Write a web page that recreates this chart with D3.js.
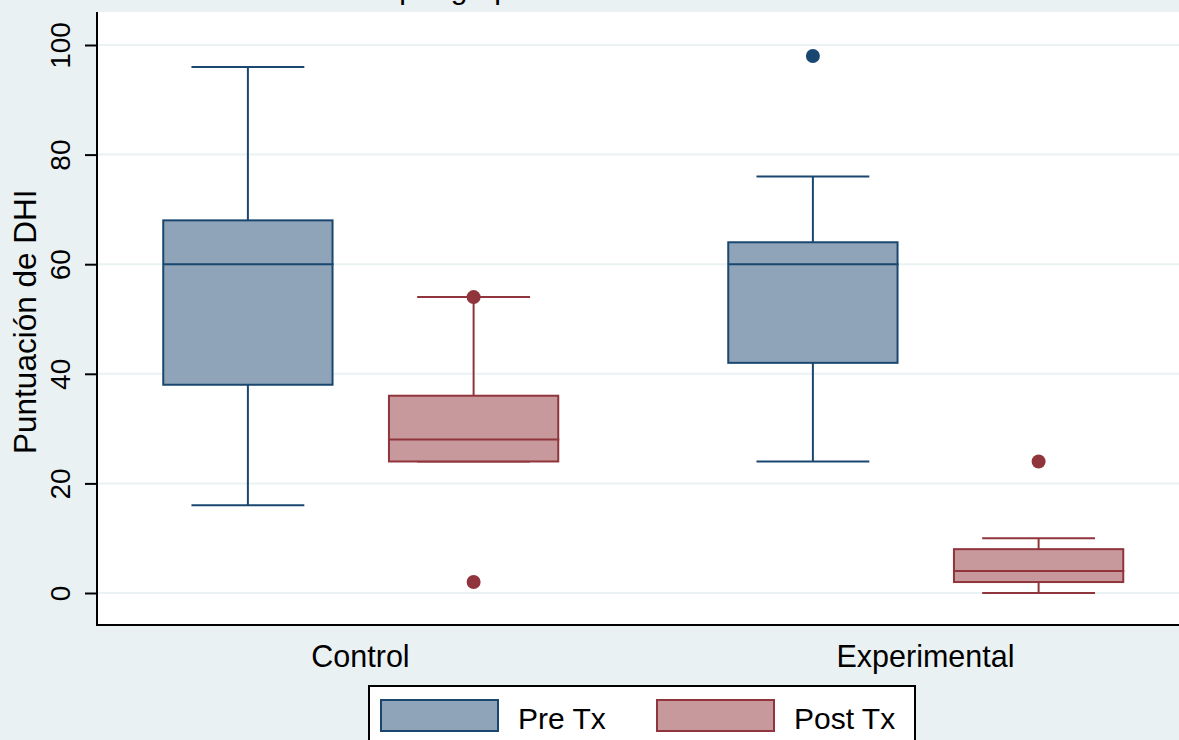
<!DOCTYPE html>
<html>
<head>
<meta charset="utf-8">
<script src="https://cdn.jsdelivr.net/npm/d3@7"></script>
<style>
  body { margin: 0; background: #eaf1f3; }
  text { font-family: "Liberation Sans", Arial, sans-serif; fill: #000; }
</style>
</head>
<body>
<div id="chart"></div>
<script>
const groups = ['Control', 'Experimental'];
const series = ['Pre Tx', 'Post Tx'];
const yTicks = [0, 20, 40, 60, 80, 100];

// [lower whisker, Q1, median, Q3, upper whisker] per group
const preTx = [
  [16, 38, 60, 68, 96],
  [24, 42, 60, 64, 76],
];
const postTx = [
  [24, 24, 28, 36, 54],
  [0, 2, 4, 8, 10],
];
const preOutliers = [[], [98]];
const postOutliers = [[54, 2], [24]];

const colors = {
  'Pre Tx': { fill: '#8fa4b8', stroke: '#1a476f' },
  'Post Tx': { fill: '#c8999c', stroke: '#90353b' },
};

const width = 1179;
const height = 740;

const svg = d3
  .select('#chart')
  .append('svg')
  .attr('width', width)
  .attr('height', height);

svg.append('rect').attr('width', width).attr('height', height).attr('fill', '#eaf1f3');

const plotLeft = 97;
const plotTop = 12;
const plotBottom = 625;

svg
  .append('rect')
  .attr('x', plotLeft)
  .attr('y', plotTop)
  .attr('width', width - plotLeft + 5)
  .attr('height', plotBottom - plotTop)
  .attr('fill', '#fff');

// title: only its lower edge shows at the top of the frame
svg
  .append('text')
  .attr('x', 139)
  .attr('y', -1.5)
  .style('font-size', '30px')
  .text('Puntuación de DHI por grupo');

const y = d3.scaleLinear().domain([0, 100]).range([593, 45]);

const x = d3.scaleBand().domain(groups).range([78, 1208]).padding(0);
const xs = d3
  .scaleBand()
  .domain(series)
  .range([85.25, 480.25])
  .paddingInner(0.25)
  .paddingOuter(0);

// gridlines
svg
  .append('g')
  .selectAll('line')
  .data(yTicks)
  .enter()
  .append('line')
  .attr('x1', plotLeft)
  .attr('x2', width)
  .attr('y1', (d) => y(d))
  .attr('y2', (d) => y(d))
  .attr('stroke', '#eaf2f3')
  .attr('stroke-width', 2);

const yAxis = svg
  .append('g')
  .attr('transform', `translate(${plotLeft},0)`)
  .call(d3.axisLeft(y).tickValues(yTicks).tickSize(12).tickFormat(d3.format('d')));
yAxis.select('.domain').remove();
yAxis.selectAll('.tick line').attr('stroke', '#000').attr('stroke-width', 2);
yAxis
  .selectAll('.tick text')
  .attr('x', null)
  .attr('dy', null)
  .attr('transform', 'translate(-27,0) rotate(-90)')
  .attr('text-anchor', 'middle')
  .style('font-size', '28px')
  .style('font-family', '"Liberation Sans", Arial, sans-serif');

svg
  .append('line')
  .attr('x1', plotLeft)
  .attr('x2', plotLeft)
  .attr('y1', plotTop)
  .attr('y2', plotBottom + 1)
  .attr('stroke', '#000')
  .attr('stroke-width', 2);

svg
  .append('line')
  .attr('x1', plotLeft)
  .attr('x2', width)
  .attr('y1', plotBottom)
  .attr('y2', plotBottom)
  .attr('stroke', '#000')
  .attr('stroke-width', 2);

svg
  .append('text')
  .attr('transform', `translate(36,${y(49.5)}) rotate(-90)`)
  .attr('text-anchor', 'middle')
  .style('font-size', '31.5px')
  .text('Puntuación de DHI');

// category labels
svg
  .append('g')
  .selectAll('text')
  .data(groups)
  .enter()
  .append('text')
  .attr('x', (d) => x(d) + x.bandwidth() / 2)
  .attr('y', 667)
  .attr('text-anchor', 'middle')
  .style('font-size', '30.5px')
  .text((d) => d);

const drawBoxes = (name, stats, outliers) => {
  const c = colors[name];
  const bw = xs.bandwidth();
  const g = svg.append('g');
  groups.forEach((grp, i) => {
    const [lo, q1, med, q3, hi] = stats[i];
    const x0 = x(grp) + xs(name);
    const cx = x0 + bw / 2;
    const cap = bw / 3;
    // whiskers
    g.append('line')
      .attr('x1', cx).attr('x2', cx)
      .attr('y1', y(hi)).attr('y2', y(q3))
      .attr('stroke', c.stroke).attr('stroke-width', 2);
    g.append('line')
      .attr('x1', cx).attr('x2', cx)
      .attr('y1', y(q1)).attr('y2', y(lo))
      .attr('stroke', c.stroke).attr('stroke-width', 2);
    [hi, lo].forEach((v) => {
      g.append('line')
        .attr('x1', cx - cap).attr('x2', cx + cap)
        .attr('y1', y(v)).attr('y2', y(v))
        .attr('stroke', c.stroke).attr('stroke-width', 2);
    });
    g.append('rect')
      .attr('x', x0)
      .attr('y', y(q3))
      .attr('width', bw)
      .attr('height', y(q1) - y(q3))
      .attr('fill', c.fill)
      .attr('stroke', c.stroke)
      .attr('stroke-width', 2);
    g.append('line')
      .attr('x1', x0).attr('x2', x0 + bw + 1)
      .attr('y1', y(med)).attr('y2', y(med))
      .attr('stroke', c.stroke).attr('stroke-width', 2);
    g.selectAll(null)
      .data(outliers[i])
      .enter()
      .append('circle')
      .attr('cx', cx)
      .attr('cy', (d) => y(d))
      .attr('r', 7)
      .attr('fill', c.stroke);
  });
};

drawBoxes('Pre Tx', preTx, preOutliers);
drawBoxes('Post Tx', postTx, postOutliers);

// legend
const legend = svg.append('g');
legend
  .append('rect')
  .attr('x', 369)
  .attr('y', 686)
  .attr('width', 546)
  .attr('height', 80)
  .attr('fill', '#fff')
  .attr('stroke', '#000')
  .attr('stroke-width', 2);

const legendX = d3.scaleOrdinal().domain(series).range([381, 657]);
series.forEach((s) => {
  legend
    .append('rect')
    .attr('x', legendX(s))
    .attr('y', 700)
    .attr('width', 117)
    .attr('height', 31)
    .attr('fill', colors[s].fill)
    .attr('stroke', colors[s].stroke)
    .attr('stroke-width', 2);
  legend
    .append('text')
    .attr('x', legendX(s) + 137)
    .attr('y', 729)
    .style('font-size', '30px')
    .text(s);
});
</script>
</body>
</html>
